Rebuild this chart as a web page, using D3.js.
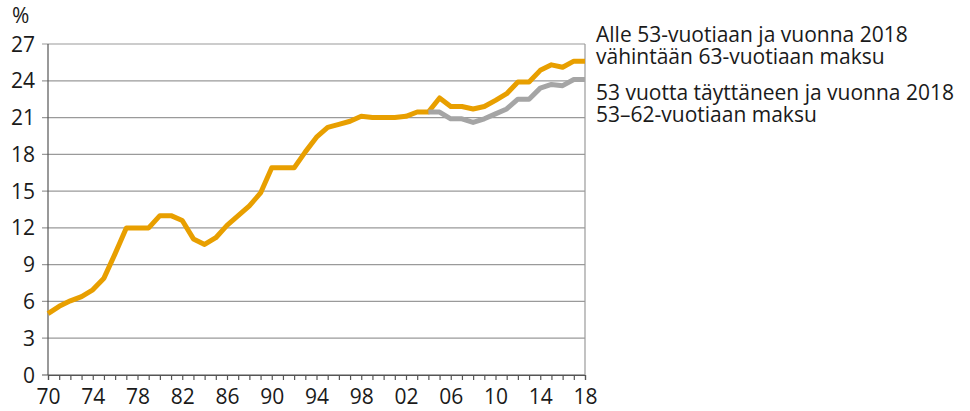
<!DOCTYPE html>
<html>
<head>
<meta charset="utf-8">
<script src="https://cdn.jsdelivr.net/npm/d3@7"></script>
<style>
  body { margin: 0; background: #fff; }
  text { font-family: "Open Sans", sans-serif; fill: #1a1a1a; }
</style>
</head>
<body>
<script>
// Years 1970-2018 and the two contribution series (%)
var years = d3.range(1970, 2019);
var orangeValues = [
    5.0, 5.6, 6.05, 6.4, 6.95, 7.9, 9.9, 12.0, 12.0, 12.0,
    13.0, 13.0, 12.6, 11.1, 10.65, 11.2, 12.2, 13.0, 13.8, 14.85,
    16.9, 16.9, 16.9, 18.2, 19.4, 20.2, 20.45, 20.7, 21.1, 21.0,
    21.0, 21.0, 21.1, 21.45, 21.45, 22.6, 21.9, 21.9, 21.7, 21.9,
    22.4, 22.95, 23.9, 23.9, 24.85, 25.3, 25.1, 25.6, 25.6
];
var grayYears = d3.range(2004, 2019);
var grayValues = [
    21.45, 21.45, 20.9, 20.9, 20.6, 20.9, 21.3, 21.7, 22.5, 22.5,
    23.4, 23.7, 23.6, 24.1, 24.1
];
var yTicks = [0, 3, 6, 9, 12, 15, 18, 21, 24, 27];
var xLabelYears = [1970, 1974, 1978, 1982, 1986, 1990, 1994, 1998,
                   2002, 2006, 2010, 2014, 2018];
var legendOrange = ["Alle 53-vuotiaan ja vuonna 2018",
                    "vähintään 63-vuotiaan maksu"];
var legendGray = ["53 vuotta täyttäneen ja vuonna 2018",
                  "53–62-vuotiaan maksu"];

var W = 970, H = 411;
var margin = {top: 44, right: 385, bottom: 36, left: 48},
    width = W - margin.left - margin.right,
    height = H - margin.top - margin.bottom;

var svg = d3.select("body").append("svg")
    .attr("width", W)
    .attr("height", H);

var g = svg.append("g")
    .attr("transform", "translate(" + margin.left + "," + margin.top + ")");

var xScale = d3.scaleLinear().domain([1970, 2018]).range([0, width]);
var yScale = d3.scaleLinear().domain([0, 27]).range([height, 0]);

// horizontal grid lines, stretching a little to the left of the axis
g.selectAll(".grid")
    .data(yTicks)
    .enter()
    .append("line")
    .attr("x1", -6)
    .attr("x2", width)
    .attr("y1", function(d) { return yScale(d); })
    .attr("y2", function(d) { return yScale(d); })
    .attr("stroke", function(d) { return d === 0 ? "#555" : "#9a9a9a"; })
    .attr("stroke-width", 1.2);

// y labels
g.selectAll(".ylab")
    .data(yTicks)
    .enter()
    .append("text")
    .attr("x", -13)
    .attr("y", function(d) { return yScale(d); })
    .attr("dy", "0.36em")
    .attr("text-anchor", "end")
    .attr("font-size", "21px")
    .text(function(d) { return d; });

svg.append("text")
    .attr("x", 12)
    .attr("y", 23)
    .attr("font-size", "21px")
    .text("%");

// left and right frame lines
g.append("line")
    .attr("x1", 0).attr("x2", 0)
    .attr("y1", 0).attr("y2", height)
    .attr("stroke", "#555").attr("stroke-width", 1.2);
g.append("line")
    .attr("x1", width).attr("x2", width)
    .attr("y1", 0).attr("y2", height)
    .attr("stroke", "#9a9a9a").attr("stroke-width", 1.2);

// x axis: a tick each year, labels every fourth year
var xAxis = d3.axisBottom(xScale)
    .tickValues(years)
    .tickSize(5)
    .tickFormat(function(d) {
        return xLabelYears.indexOf(d) >= 0 ? d3.format("02d")(d % 100) : "";
    });
var xg = g.append("g")
    .attr("transform", "translate(0," + height + ")")
    .call(xAxis);
xg.select(".domain").attr("stroke", "#555").attr("stroke-width", 1.2);
xg.selectAll(".tick line").attr("stroke", "#555").attr("stroke-width", 1.2);
xg.selectAll(".tick text")
    .attr("font-size", "21px")
    .attr("font-family", "'Open Sans', sans-serif")
    .attr("fill", "#1a1a1a")
    .attr("y", 14);

var line = d3.line()
    .x(function(d) { return xScale(d[0]); })
    .y(function(d) { return yScale(d[1]); });

g.append("path")
    .datum(d3.zip(years, orangeValues))
    .attr("d", line)
    .attr("fill", "none")
    .attr("stroke", "#e89f00")
    .attr("stroke-width", 5)
    .attr("stroke-linejoin", "round");

g.append("path")
    .datum(d3.zip(grayYears, grayValues))
    .attr("d", line)
    .attr("fill", "none")
    .attr("stroke", "#a5a5a5")
    .attr("stroke-width", 5)
    .attr("stroke-linejoin", "round");

// legend labels, one text per line
function legend(lines, y0) {
    svg.selectAll(null)
        .data(lines)
        .enter()
        .append("text")
        .attr("x", 596)
        .attr("y", function(d, i) { return y0 + i * 21.5; })
        .attr("font-size", "21px")
        .text(function(d) { return d; });
}
legend(legendOrange, 42);
legend(legendGray, 100);
</script>
</body>
</html>
